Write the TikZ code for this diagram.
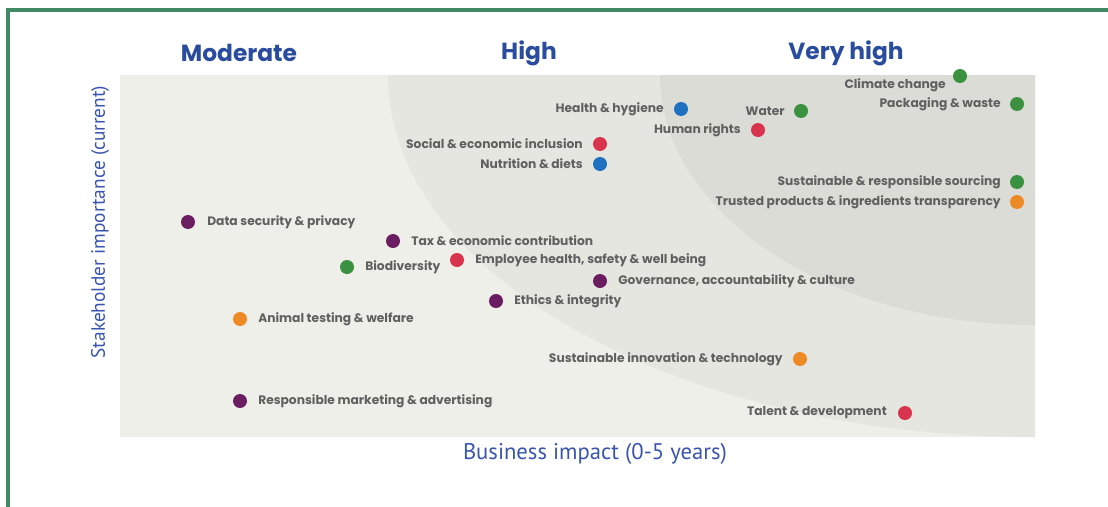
\documentclass[tikz,border=0pt]{standalone}
\usepackage{fontspec}
\setmainfont{Poppins}
\newfontfamily\axisfont{PT Sans}
\definecolor{framegreen}{HTML}{3F8A65}
\definecolor{plotbg}{HTML}{EFEFEA}
\definecolor{bandmid}{HTML}{E6E6E1}
\definecolor{banddark}{HTML}{DCDCD7}
\definecolor{labelgray}{HTML}{606060}
\definecolor{headblue}{HTML}{2A4C9E}
\definecolor{axisblue}{HTML}{3A55B0}
\definecolor{dotgreen}{HTML}{3A913F}
\definecolor{dotblue}{HTML}{1F70C1}
\definecolor{dotred}{HTML}{D8344E}
\definecolor{dotpurple}{HTML}{6A1D60}
\definecolor{dotorange}{HTML}{EE8A25}

\begin{document}
\begin{tikzpicture}[x=0.75pt, y=-0.75pt,
  dot/.style={circle, draw=none, minimum size=10.5pt, inner sep=0pt},
  lbl/.style={text=labelgray, font=\fontsize{9.2}{10}\selectfont\bfseries, inner sep=0pt},
  head/.style={text=headblue, font=\fontsize{17.5}{19}\selectfont\bfseries},
  axislbl/.style={text=axisblue, font=\axisfont\fontsize{17}{19}\selectfont}]
  \useasboundingbox (0,0) rectangle (1108,507);
  \fill[white] (0,0) rectangle (1108,507);
  \draw[framegreen, line width=2.3pt] (1108,10) -- (8,10) -- (8,507);

  % plot area and bands
  \fill[plotbg] (120,75) rectangle (1035,437);
  \begin{scope}
    \clip (120,75) rectangle (1035,437);
    \fill[bandmid] (1035,75) ellipse [x radius=647, y radius=362];
    \fill[banddark] (1035,75) ellipse [x radius=375, y radius=250];
  \end{scope}

  % column headings
  \node[head] (moderate) at (239,53) {Moderate};
  \node[head] (high) at (529,53) {High};
  \node[head] (veryhigh) at (846,53) {Very high};

  % axes
  \node[axislbl] (xaxis) at (595,454) {Business impact (0-5 years)};
  \node[axislbl, font=\axisfont\fontsize{14.5}{16}\selectfont, rotate=90] (yaxis) at (100,222) {Stakeholder importance (current)};

  % topics
  \node[dot, fill=dotgreen] (climate) at (960,76) {};
  \node[lbl, anchor=east] (climatel) at (946,85) {Climate change};
  \node[dot, fill=dotgreen] (packaging) at (1017,104) {};
  \node[lbl, anchor=east] (packagingl) at (1001,104) {Packaging \& waste};
  \node[dot, fill=dotgreen] (water) at (801,111) {};
  \node[lbl, anchor=east] (waterl) at (785,111) {Water};
  \node[dot, fill=dotblue] (health) at (681,109) {};
  \node[lbl, anchor=east] (healthl) at (664,109) {Health \& hygiene};
  \node[dot, fill=dotred] (rights) at (758,130) {};
  \node[lbl, anchor=east] (rightsl) at (741,130) {Human rights};
  \node[dot, fill=dotred] (social) at (600,144) {};
  \node[lbl, anchor=east] (sociall) at (583,144) {Social \& economic inclusion};
  \node[dot, fill=dotblue] (nutrition) at (600,164) {};
  \node[lbl, anchor=east] (nutritionl) at (583,164) {Nutrition \& diets};
  \node[dot, fill=dotgreen] (sourcing) at (1017,182) {};
  \node[lbl, anchor=east] (sourcingl) at (1001,182) {Sustainable \& responsible sourcing};
  \node[dot, fill=dotorange] (trusted) at (1017,202) {};
  \node[lbl, anchor=east] (trustedl) at (1001,202) {Trusted products \& ingredients transparency};
  \node[dot, fill=dotpurple] (data) at (188,222) {};
  \node[lbl, anchor=west] (datal) at (207,222) {Data security \& privacy};
  \node[dot, fill=dotpurple] (tax) at (393,241) {};
  \node[lbl, anchor=west] (taxl) at (411,241) {Tax \& economic contribution};
  \node[dot, fill=dotgreen] (biodiv) at (347,267) {};
  \node[lbl, anchor=west] (biodivl) at (365,267) {Biodiversity};
  \node[dot, fill=dotred] (employee) at (457,260) {};
  \node[lbl, anchor=west] (employeel) at (475,260) {Employee health, safety \& well being};
  \node[dot, fill=dotpurple] (governance) at (600,281) {};
  \node[lbl, anchor=west] (governancel) at (618,281) {Governance, accountability \& culture};
  \node[dot, fill=dotpurple] (ethics) at (496,301) {};
  \node[lbl, anchor=west] (ethicsl) at (514,301) {Ethics \& integrity};
  \node[dot, fill=dotorange] (animal) at (240,319) {};
  \node[lbl, anchor=west] (animall) at (258,319) {Animal testing \& welfare};
  \node[dot, fill=dotorange] (innovation) at (800,359) {};
  \node[lbl, anchor=east] (innovationl) at (783,359) {Sustainable innovation \& technology};
  \node[dot, fill=dotpurple] (marketing) at (240,401) {};
  \node[lbl, anchor=west] (marketingl) at (258,401) {Responsible marketing \& advertising};
  \node[dot, fill=dotred] (talent) at (905,413) {};
  \node[lbl, anchor=east] (talentl) at (887,413) {Talent \& development};
\end{tikzpicture}
\end{document}
